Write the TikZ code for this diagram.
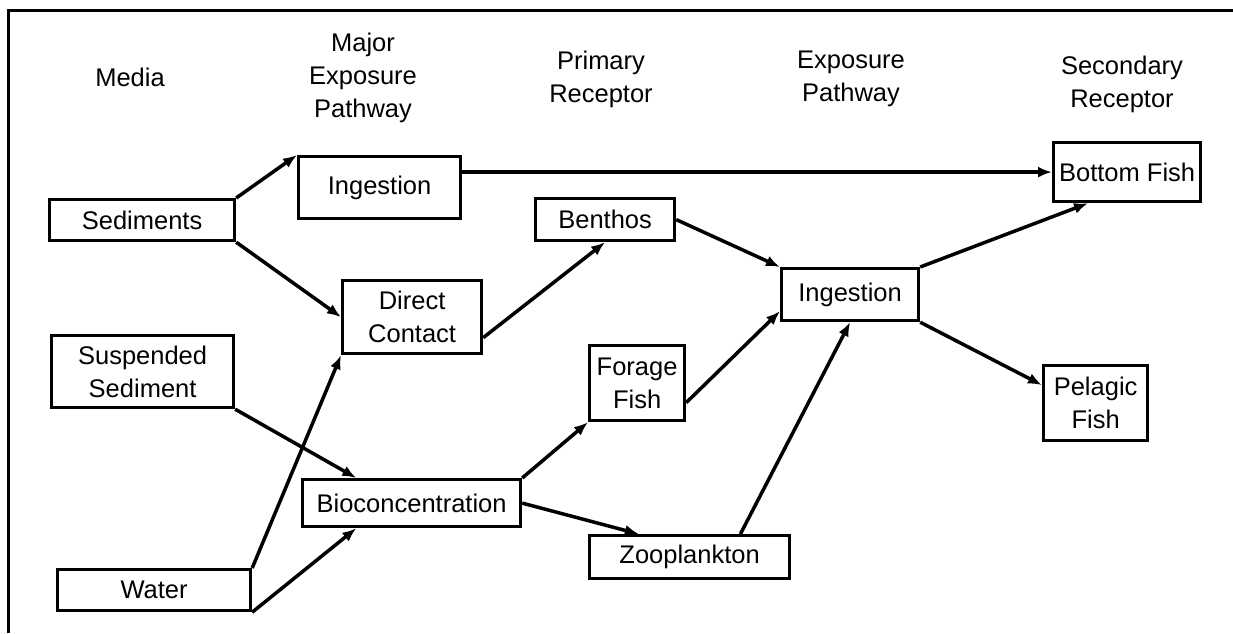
\documentclass[tikz,border=0pt]{standalone}
\usepackage{fontspec}
\setmainfont{Liberation Sans}
\usepackage{tikz}
\usetikzlibrary{arrows.meta,calc}

\begin{document}
\begin{tikzpicture}[x=1pt,y=-1pt,
    every node/.style={font=\fontsize{25.5}{33}\selectfont},
    box/.style={draw,line width=3.2pt,inner sep=0pt,anchor=north west,align=center},
    head/.style={align=center},
    link/.style={line width=3.5pt,-{Latex[length=14pt,width=11pt]}}]
      \useasboundingbox (0,0) rectangle (1233,633);
      \draw[line width=3pt] (8,633) -- (8,10) -- (1233,10);

      \node[head] (h1) at (130,77) {Media};
      \node[head] (h2) at (363,78) {Major\\Exposure\\Pathway};
      \node[head] (h3) at (601,79) {Primary\\Receptor};
      \node[head] (h4) at (851,79) {Exposure\\Pathway};
      \node[head] (h5) at (1122,84) {Secondary\\Receptor};

      \node[box, minimum width=185pt, minimum height=41pt] (m1) at (48,198) {Sediments};
      \node[box, minimum width=182pt, minimum height=72pt] (m2) at (50,334) {Suspended\\Sediment};
      \node[box, minimum width=193pt, minimum height=41pt] (m3) at (56,568) {Water};

      \node[box, minimum width=162pt, minimum height=62pt] (p1) at (297,155) {Ingestion};
      \node[box, minimum width=139pt, minimum height=73pt] (p2) at (341,279) {Direct\\Contact};
      \node[box, minimum width=218pt, minimum height=47pt] (p3) at (301,478) {Bioconcentration};

      \node[box, minimum width=139pt, minimum height=42pt] (r1) at (534,197) {Benthos};
      \node[box, minimum width=95pt, minimum height=75pt] (r2) at (588,344) {Forage\\Fish};
      \node[box, minimum width=200pt, minimum height=43pt] (r3) at (588,534) {Zooplankton};

      \node[box, minimum width=137pt, minimum height=52pt] (e1) at (780,267) {Ingestion};

      \node[box, minimum width=147pt, minimum height=59pt] (s1) at (1052,141) {Bottom Fish};
      \node[box, minimum width=104pt, minimum height=75pt] (s2) at (1042,364) {Pelagic\\Fish};

      \draw[link] (m1.north east) -- (p1.north west);
      \draw[link] (m1.south east) -- (p2.west);
      \draw[link] (m2.south east) -- ($(p3.north west)!0.25!(p3.north east)$);
      \draw[link] (m3.north east) -- (p2.south west);
      \draw[link] (m3.south east) -- ($(p3.south west)!0.25!(p3.south east)$);
      \draw[link] (p1.east |- s1.west) -- (s1.west);
      \draw[link] ($(p2.north east)!0.77!(p2.south east)$) -- (r1.south);
      \draw[link] (p3.north east) -- (r2.south west);
      \draw[link] (p3.east) -- ($(r3.north west)!0.25!(r3.north east)$);
      \draw[link] (r1.east) -- (e1.north west);
      \draw[link] ($(r2.north east)!0.75!(r2.south east)$) -- ($(e1.north west)!0.8!(e1.south west)$);
      \draw[link] ($(r3.north west)!0.75!(r3.north east)$) -- (e1.south);
      \draw[link] (e1.north east) -- ($(s1.south west)!0.24!(s1.south east)$);
      \draw[link] (e1.south east) -- ($(s2.north west)!0.27!(s2.south west)$);
\end{tikzpicture}
\end{document}
